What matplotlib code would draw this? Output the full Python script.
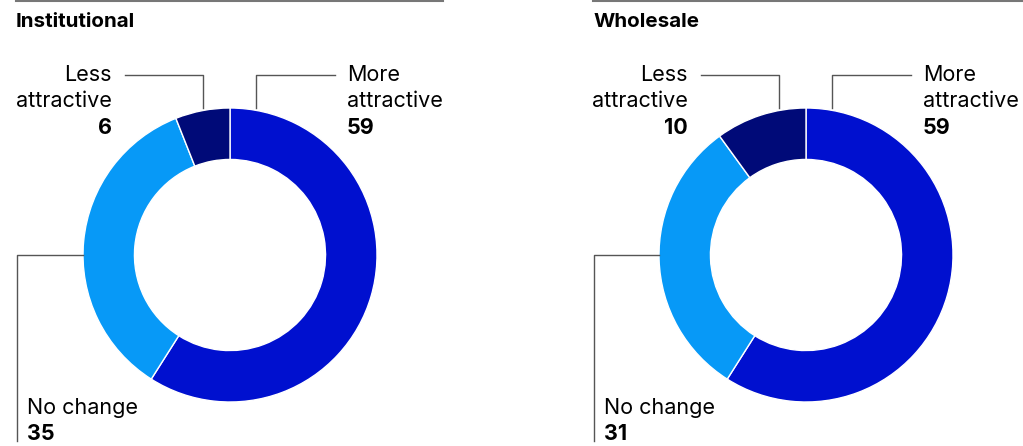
import matplotlib.pyplot as plt

plt.rcParams['font.family'] = ['Inter', 'DejaVu Sans']

# Survey shares (%)
panels = ["Institutional", "Wholesale"]
more_attractive = [59, 59]
no_change = [35, 31]
less_attractive = [6, 10]
colors = ["#0010cf", "#0799f7", "#000a78"]

W, H = 1023, 446
fig = plt.figure(figsize=(W / 100, H / 100), dpi=100)
ax = fig.add_axes([0, 0, 1, 1])


def Y(y):
    # pixel-from-top to data y
    return H - y


line_kw = dict(color="#555555", lw=1.0)
fs = 15.5

for i, name in enumerate(panels):
    x0 = 16 + i * 577      # panel left edge
    cx = 230 + i * 576     # donut centre
    cy = 255
    r = 147

    ax.plot([x0, x0 + 427 + (i * 3)], [Y(1), Y(1)], color="#777777", lw=1.5)
    ax.text(x0, Y(22), name, fontsize=14.8, fontweight='bold', va='center', ha='left')

    vals = [more_attractive[i], no_change[i], less_attractive[i]]
    ax.pie(vals, colors=colors, startangle=90, counterclock=False,
           center=(cx, Y(cy)), radius=r,
           wedgeprops=dict(width=r * 0.35, edgecolor='white', linewidth=1.0),
           frame=True)

    # Less attractive leader
    lx = cx - 27
    ax.plot([lx, lx, lx - 78], [Y(108), Y(75), Y(75)], **line_kw)
    tx = lx - 91
    ax.text(tx, Y(75), "Less", fontsize=fs, ha='right', va='center')
    ax.text(tx, Y(101), "attractive", fontsize=fs, ha='right', va='center')
    ax.text(tx, Y(128), str(less_attractive[i]), fontsize=fs, fontweight='bold', ha='right', va='center')

    # More attractive leader
    mx = cx + 26
    ax.plot([mx, mx, mx + 79], [Y(108), Y(75), Y(75)], **line_kw)
    tx = mx + 91
    ax.text(tx, Y(75), "More", fontsize=fs, ha='left', va='center')
    ax.text(tx, Y(101), "attractive", fontsize=fs, ha='left', va='center')
    ax.text(tx, Y(128), str(more_attractive[i]), fontsize=fs, fontweight='bold', ha='left', va='center')

    # No change leader
    nx = cx - r
    ax.plot([nx, x0 + 1, x0 + 1], [Y(255), Y(255), Y(441)], **line_kw)
    ax.text(x0 + 11, Y(408), "No change", fontsize=fs, ha='left', va='center')
    ax.text(x0 + 11, Y(434), str(no_change[i]), fontsize=fs, fontweight='bold', ha='left', va='center')

ax.set_xlim(0, W)
ax.set_ylim(0, H)
ax.set_aspect('equal')
ax.axis('off')
fig.savefig("out.png", dpi=100)
